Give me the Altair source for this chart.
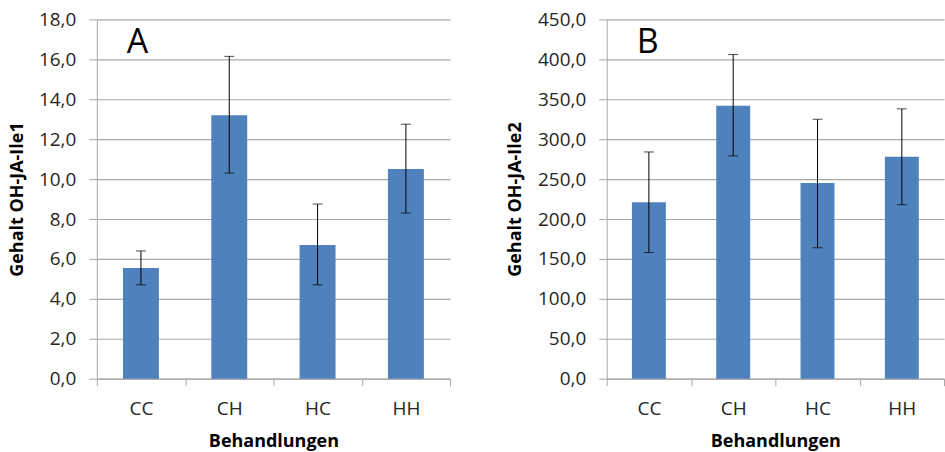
import altair as alt
import pandas as pd

cats = ["CC", "CH", "HC", "HH"]

a_mean = [5.55, 13.2, 6.7, 10.5]
a_lo = [4.7, 10.3, 4.7, 8.3]
a_hi = [6.4, 16.15, 8.75, 12.75]

b_mean = [221, 342, 245, 278]
b_lo = [158, 279, 164, 218]
b_hi = [284, 406, 325, 338]

a_ticks = [0, 2, 4, 6, 8, 10, 12, 14, 16, 18]
b_ticks = [0, 50, 100, 150, 200, 250, 300, 350, 400, 450]

FONT = "Open Sans"
GRID = "#a8a8a8"
BAR = "#4F81BD"
TXT = "#262626"


def panel(mean, lo, hi, ticks, ytitle, letter, width, barsize, extent):
    df = pd.DataFrame({"cat": cats, "mean": mean, "lo": lo, "hi": hi})
    base = alt.Chart(df)
    xs = alt.Scale(domain=cats, paddingInner=0, paddingOuter=0)
    ys = alt.Scale(domain=[ticks[0], ticks[-1]], nice=False, zero=True)
    xaxis = alt.Axis(
        title="Behandlungen",
        labelAngle=0,
        tickBand="extent",
        grid=False,
        tickSize=7,
        tickColor=GRID,
        domainColor=GRID,
        labelPadding=14,
        labelFont=FONT,
        labelFontSize=19,
        labelColor=TXT,
        labelOverlap=False,
        titleFont=FONT,
        titleFontSize=18,
        titleFontWeight="bold",
        titleColor="#000000",
        titlePadding=14,
    )
    yaxis = alt.Axis(
        values=ticks,
        labelExpr="replace(format(datum.value, '.1f'), '.', ',')",
        labelOverlap=False,
        title=ytitle,
        grid=True,
        gridColor=GRID,
        gridWidth=1.2,
        domainColor=GRID,
        tickColor=GRID,
        tickSize=8,
        labelPadding=13,
        labelFont=FONT,
        labelFontSize=19,
        labelColor=TXT,
        titleFont=FONT,
        titleFontSize=18,
        titleFontWeight="bold",
        titleColor="#000000",
        titlePadding=12,
        minExtent=extent,
        maxExtent=extent,
    )
    x = alt.X("cat:N", sort=cats, scale=xs, axis=xaxis)
    bars = base.mark_bar(color=BAR, size=barsize).encode(
        x=x, y=alt.Y("mean:Q", scale=ys, axis=yaxis)
    )
    rule = base.mark_rule(color="black", strokeWidth=1).encode(
        x=x, y=alt.Y("lo:Q", scale=ys, axis=yaxis), y2="hi:Q"
    )
    cap_hi = base.mark_tick(color="black", size=10, thickness=1).encode(
        x=x, y=alt.Y("hi:Q", scale=ys, axis=yaxis)
    )
    cap_lo = base.mark_tick(color="black", size=10, thickness=1).encode(
        x=x, y=alt.Y("lo:Q", scale=ys, axis=yaxis)
    )
    lab = (
        alt.Chart(pd.DataFrame({"t": [letter]}))
        .mark_text(font=FONT, fontSize=34, align="left", baseline="alphabetic", color="#000000")
        .encode(text="t:N", x=alt.value(30), y=alt.value(34))
    )
    return alt.layer(bars, rule, cap_hi, cap_lo, lab).properties(width=width, height=360)


pa = panel(a_mean, a_lo, a_hi, a_ticks, "Gehalt OH-JA-Ile1", "A", 354, 36, 58)
pb = panel(b_mean, b_lo, b_hi, b_ticks, "Gehalt OH-JA-Ile2", "B", 338, 34, 70)

chart = (
    alt.hconcat(pa, pb, spacing=56)
    .properties(padding={"left": 9, "top": 10, "right": 0, "bottom": 0}, background="white")
    .configure_view(stroke=None)
)

chart.save("out.html", embed_options={"renderer": "svg", "actions": False})
